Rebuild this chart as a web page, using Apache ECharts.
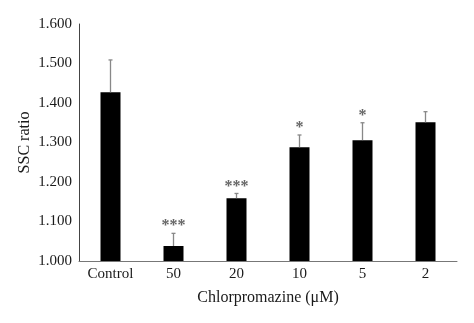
<!DOCTYPE html>
<html>
<head>
<meta charset="utf-8">
<script src="https://cdn.jsdelivr.net/npm/echarts@6/dist/echarts.min.js"></script>
<style>html,body{margin:0;padding:0;background:#fff}#c{width:474px;height:323px}</style>
</head>
<body>
<div id="c"></div>
<script>
var categories = ['Control', '50', '20', '10', '5', '2'];
var means = [1.427, 1.038, 1.159, 1.288, 1.306, 1.351];
var errors = [0.082, 0.032, 0.012, 0.031, 0.044, 0.027];
var stars = ['', '***', '***', '*', '*', ''];
var yTicks = [1.0, 1.1, 1.2, 1.3, 1.4, 1.5, 1.6];

var font = 'Liberation Serif';
var chart = echarts.init(document.getElementById('c'));
var errData = categories.map(function (c, i) { return [i, means[i], means[i] + errors[i], stars[i]]; });

chart.setOption({
  animation: false,
  grid: { left: 79, right: 17, top: 24, bottom: 62 },
  xAxis: {
    type: 'category',
    data: categories,
    name: 'Chlorpromazine (\u03bcM)',
    nameLocation: 'middle',
    nameGap: 29,
    nameMoveOverlap: false,
    nameTextStyle: { fontFamily: font, fontSize: 16, color: '#1a1a1a' },
    axisLine: { lineStyle: { color: '#777', width: 1 } },
    axisTick: { show: false },
    axisLabel: { fontFamily: font, fontSize: 15, color: '#1a1a1a', margin: 6 }
  },
  yAxis: {
    type: 'value',
    min: yTicks[0],
    max: yTicks[yTicks.length - 1],
    interval: 0.1,
    name: 'SSC ratio',
    nameLocation: 'middle',
    nameGap: 46,
    nameMoveOverlap: false,
    nameTextStyle: { fontFamily: font, fontSize: 16, color: '#1a1a1a' },
    axisLine: { show: true, lineStyle: { color: '#444', width: 1 } },
    axisTick: { show: false },
    splitLine: { show: false },
    axisLabel: { fontFamily: font, fontSize: 15, color: '#1a1a1a', margin: 7,
      formatter: function (v) { return v.toFixed(3); } }
  },
  series: [
    {
      type: 'bar',
      data: means,
      barWidth: 20,
      itemStyle: { color: '#000' }
    },
    {
      type: 'custom',
      data: errData,
      z: 5,
      renderItem: function (params, api) {
        var x = api.value(0);
        var p0 = api.coord([x, api.value(1)]);
        var p1 = api.coord([x, api.value(2)]);
        var children = [
          { type: 'line', shape: { x1: p0[0], y1: p0[1], x2: p1[0], y2: p1[1] }, style: { stroke: '#888', lineWidth: 1.3 } },
          { type: 'line', shape: { x1: p1[0] - 2, y1: p1[1], x2: p1[0] + 2, y2: p1[1] }, style: { stroke: '#888', lineWidth: 1.3 } }
        ];
        var s = api.value(3);
        if (s) {
          children.push({ type: 'text', style: { text: s, x: p1[0], y: p1[1] + 1, align: 'center', verticalAlign: 'bottom', font: 'bold 16px "Liberation Serif"', fill: '#666' } });
        }
        return { type: 'group', children: children };
      }
    }
  ]
});
</script>
</body>
</html>
